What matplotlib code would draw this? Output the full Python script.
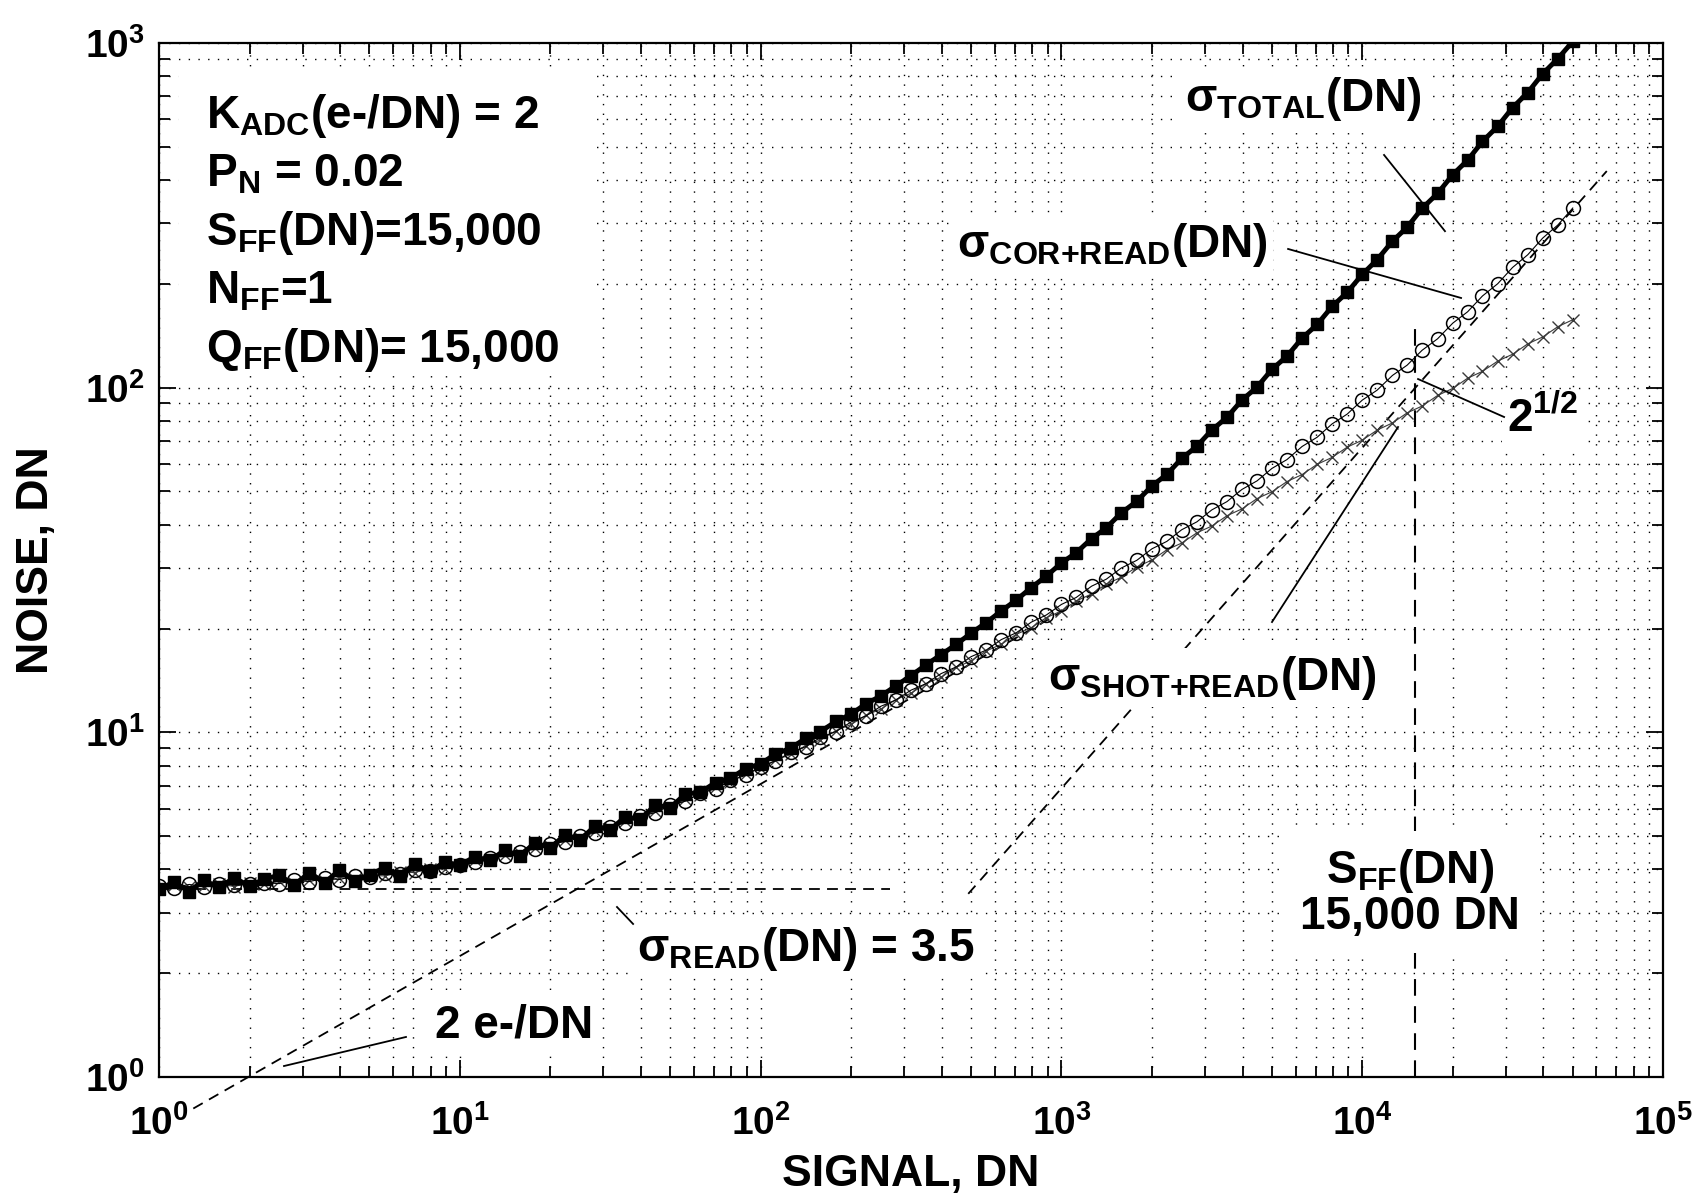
import matplotlib.pyplot as plt
from matplotlib.patches import Rectangle

# signal levels (DN)
signal = [1.00, 1.12, 1.26, 1.41, 1.58, 1.78, 2.00, 2.24, 2.51, 2.82,
          3.16, 3.55, 3.98, 4.47, 5.01, 5.62, 6.31, 7.08, 7.94, 8.91,
          10.0, 11.2, 12.6, 14.1, 15.8, 17.8, 20.0, 22.4, 25.1, 28.2,
          31.6, 35.5, 39.8, 44.7, 50.1, 56.2, 63.1, 70.8, 79.4, 89.1,
          100, 112, 126, 141, 158, 178, 200, 224, 251, 282,
          316, 355, 398, 447, 501, 562, 631, 708, 794, 891,
          1000, 1120, 1260, 1410, 1580, 1780, 2000, 2240, 2510, 2820,
          3160, 3550, 3980, 4470, 5010, 5620, 6310, 7080, 7940, 8910,
          10000, 11200, 12600, 14100, 15800, 17800, 20000, 22400, 25100, 28200,
          31600, 35500, 39800, 44700, 50100]

# sigma TOTAL (DN)
noise_total = [3.50, 3.68, 3.45, 3.72, 3.55, 3.78, 3.58, 3.75, 3.85, 3.60,
               3.92, 3.66, 3.98, 3.70, 3.86, 4.05, 3.84, 4.15, 3.95, 4.20,
               4.12, 4.35, 4.25, 4.55, 4.38, 4.78, 4.62, 5.05, 4.88, 5.35,
               5.22, 5.68, 5.60, 6.15, 6.05, 6.62, 6.70, 7.15, 7.35, 7.85,
               8.10, 8.65, 9.00, 9.60, 10.05, 10.75, 11.30, 12.10, 12.75, 13.65,
               14.60, 15.70, 16.80, 18.00, 19.40, 20.80, 22.50, 24.20, 26.30, 28.40,
               31.0, 33.2, 36.5, 39.2, 43.3, 46.8, 51.9, 56.0, 62.3, 67.6,
               75.3, 82.0, 92.0, 100.4, 113.0, 123.4, 139.2, 152.5, 172.0, 189.0,
               213, 235, 266, 292, 331, 366, 415, 457, 518, 573,
               649, 718, 814, 901, 1010]

# sigma COR+READ (DN)
noise_cor = [3.58, 3.54, 3.62, 3.56, 3.64, 3.60, 3.62, 3.66, 3.64, 3.72,
             3.69, 3.77, 3.74, 3.83, 3.81, 3.90, 3.88, 3.98, 3.97, 4.07,
             4.13, 4.20, 4.33, 4.37, 4.51, 4.58, 4.74, 4.82, 5.01, 5.10,
             5.33, 5.45, 5.70, 5.85, 6.14, 6.31, 6.66, 6.86, 7.25, 7.50,
             7.95, 8.26, 8.75, 9.08, 9.66, 10.05, 10.72, 11.16, 11.90, 12.42,
             13.25, 13.85, 14.80, 15.48, 16.58, 17.32, 18.58, 19.45, 20.88, 21.90,
             23.50, 24.62, 26.55, 27.82, 29.96, 31.55, 34.08, 35.80, 38.70, 40.80,
             44.18, 46.70, 50.65, 53.65, 58.30, 61.85, 67.50, 71.80, 78.50, 83.80,
             92.0, 98.3, 108.5, 116.2, 128.3, 138.6, 153.9, 166.0, 184.5, 200.2,
             223.2, 243.0, 271.6, 296.5, 332.0]

# sigma SHOT+READ (DN)
noise_shot = [3.52, 3.60, 3.55, 3.58, 3.63, 3.57, 3.66, 3.62, 3.70, 3.65,
              3.74, 3.70, 3.79, 3.76, 3.85, 3.83, 3.93, 3.92, 4.02, 4.01,
              4.12, 4.25, 4.27, 4.42, 4.46, 4.63, 4.69, 4.87, 4.95, 5.16,
              5.27, 5.52, 5.64, 5.92, 6.08, 6.39, 6.58, 6.94, 7.17, 7.58,
              7.85, 8.30, 8.63, 9.15, 9.50, 10.12, 10.54, 11.21, 11.68, 12.45,
              12.98, 13.85, 14.45, 15.44, 16.12, 17.22, 18.00, 19.25, 20.12, 21.52,
              22.50, 24.05, 25.20, 26.93, 28.15, 30.20, 31.62, 33.85, 35.40, 37.92,
              39.66, 42.50, 44.48, 47.66, 49.88, 53.40, 55.95, 59.92, 62.75, 67.20,
              70.4, 75.3, 79.0, 84.5, 88.4, 94.9, 99.5, 106.5, 111.5, 119.4,
              125.0, 134.0, 140.3, 150.3, 157.4]

# reference lines
read_x, read_y = [1, 270], [3.5, 3.5]
half_x, half_y = [1.3, 2000], [0.81, 31.6]
one_x, one_y = [490, 65000], [3.4, 425]
sff_x, sff_y = [15000, 15000], [1.0, 157]

plt.rcParams['font.family'] = ['Liberation Sans', 'DejaVu Sans']
plt.rcParams['font.weight'] = 'bold'
plt.rcParams['mathtext.fontset'] = 'custom'
plt.rcParams['mathtext.rm'] = 'Liberation Sans:bold'
plt.rcParams['mathtext.bf'] = 'Liberation Sans:bold'
plt.rcParams['mathtext.it'] = 'Liberation Sans:bold'
plt.rcParams['mathtext.default'] = 'bf'

fig = plt.figure(figsize=(16.97, 11.94), dpi=100)
ax = fig.add_axes([0.0937, 0.098, 0.8863, 0.866])

ax.set_xscale('log')
ax.set_yscale('log')
ax.set_xlim(1, 1e5)
ax.set_ylim(1, 1e3)

dash = (0, (6, 4))
ax.plot(read_x, read_y, color='k', lw=1.3, ls=dash, zorder=2)
ax.plot(half_x, half_y, color='k', lw=1.3, ls=dash, zorder=2, clip_on=False)
ax.plot(one_x, one_y, color='k', lw=1.3, ls=dash, zorder=2)
ax.plot(sff_x, sff_y, color='k', lw=1.5, ls=(0, (8, 5)), zorder=2)

ax.plot(signal, noise_shot, color='#3a3a3a', lw=0.8, marker='x', ms=9, mew=1.0, zorder=3)
ax.plot(signal, noise_cor, color='k', lw=0.8, marker='o', ms=10, mfc='none', mew=1.1, zorder=3)
ax.plot(signal, noise_total, color='k', lw=3.5, marker='s', ms=9, zorder=4)

# grid and ticks (MATLAB style)
ax.grid(True, which='both', color='k', ls=(0, (1, 6)), lw=1.0)
ax.tick_params(which='both', direction='in', top=True, right=True, width=1.3)
ax.tick_params(which='major', length=12, labelsize=28)
ax.tick_params(axis='x', which='major', pad=20)
ax.tick_params(axis='y', which='major', pad=10)
ax.tick_params(which='minor', length=8)
for s in ax.spines.values():
    s.set_linewidth(1.6)

ax.set_xlabel('SIGNAL, DN', fontsize=32, fontweight='bold', labelpad=8)
ax.set_ylabel('NOISE, DN', fontsize=32, fontweight='bold', labelpad=20)

fs = 33
box = dict(facecolor='white', edgecolor='none', pad=4)

# parameter block
ax.add_patch(Rectangle((0.013, 0.681), 0.274, 0.289, transform=ax.transAxes,
                       facecolor='white', edgecolor='none', zorder=5))
params = [r'K$_{\mathrm{ADC}}$(e-/DN) = 2',
          r'P$_{\mathrm{N}}$ = 0.02',
          r'S$_{\mathrm{FF}}$(DN)=15,000',
          r'N$_{\mathrm{FF}}$=1',
          r'Q$_{\mathrm{FF}}$(DN)= 15,000']
for i, t in enumerate(params):
    ax.text(0.031, 0.929 - i * 0.0565, t, transform=ax.transAxes, fontsize=fs,
            ha='left', va='center', zorder=6)

labels = [
    (0.761, 0.946, r'σ$_{\mathrm{TOTAL}}$(DN)'),
    (0.634, 0.805, r'σ$_{\mathrm{COR{+}READ}}$(DN)'),
    (0.920, 0.636, r'2$^{\mathrm{1/2}}$'),
    (0.700, 0.386, r'σ$_{\mathrm{SHOT{+}READ}}$(DN)'),
    (0.430, 0.124, r'σ$_{\mathrm{READ}}$(DN) = 3.5'),
    (0.236, 0.050, '2 e-/DN'),
]
for x, y, t in labels:
    ax.text(x, y, t, transform=ax.transAxes, fontsize=fs, ha='center',
            va='center', bbox=box, zorder=6)

ax.text(0.832, 0.178, 'S$_{\\mathrm{FF}}$(DN)\n15,000 DN', transform=ax.transAxes,
        fontsize=fs, ha='center', va='center', linespacing=1.0,
        bbox=dict(facecolor='white', edgecolor='none', pad=10), zorder=6)

# leader lines
leaders = [
    ([0.8145, 0.855], [0.8917, 0.818]),
    ([0.7507, 0.8657], [0.8008, 0.7534]),
    ([0.8371, 0.8943], [0.675, 0.6383]),
    ([0.740, 0.8238], [0.440, 0.6286]),
    ([0.3045, 0.3152], [0.1644, 0.148]),
    ([0.0831, 0.1642], [0.0106, 0.0387]),
]
for lx, ly in leaders:
    ax.plot(lx, ly, color='k', lw=1.3, transform=ax.transAxes, clip_on=False, zorder=7)

fig.savefig('out.png', dpi=100)
